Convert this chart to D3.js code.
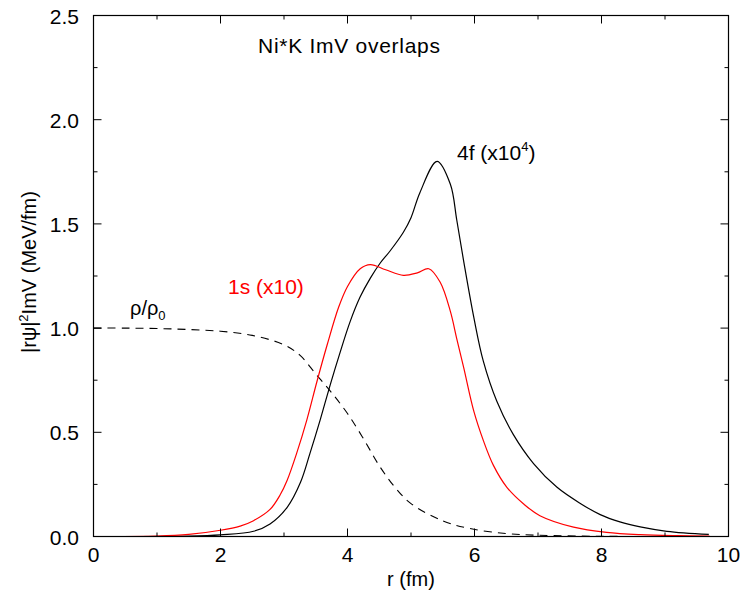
<!DOCTYPE html>
<html>
<head>
<meta charset="utf-8">
<script src="https://cdn.jsdelivr.net/npm/d3@7"></script>
<style>
  body { margin: 0; background: #fff; }
  text { font-family: "Liberation Sans", Arial, sans-serif; }
</style>
</head>
<body>
<svg width="743" height="598"></svg>
<script>
// 1s (x10) overlap
var redR = [0, 1.0, 1.5, 2.0, 2.31, 2.52, 2.78, 2.94, 3.05, 3.2, 3.36, 3.52, 3.68, 3.86, 4.0, 4.2, 4.36, 4.6, 4.88, 5.1, 5.28, 5.46, 5.62, 5.72, 5.83, 5.99, 6.14, 6.30, 6.51, 6.77, 7.03, 7.56, 8.08, 8.61, 9.2, 9.7];
var redV = [0, 0.002, 0.01, 0.03, 0.05, 0.076, 0.13, 0.20, 0.27, 0.40, 0.56, 0.745, 0.92, 1.10, 1.20, 1.285, 1.305, 1.28, 1.253, 1.265, 1.285, 1.22, 1.08, 0.95, 0.81, 0.60, 0.46, 0.34, 0.236, 0.157, 0.10, 0.045, 0.02, 0.009, 0.004, 0.002];

// 4f (x10^4) overlap
var blackR = [0, 1.5, 2.0, 2.52, 2.78, 3.05, 3.26, 3.41, 3.57, 3.73, 3.88, 4.04, 4.2, 4.36, 4.51, 4.67, 4.88, 5.0, 5.14, 5.41, 5.62, 5.72, 5.83, 5.99, 6.14, 6.35, 6.61, 6.93, 7.30, 7.66, 7.98, 8.29, 8.61, 9.03, 9.69];
var blackV = [0, 0.002, 0.008, 0.025, 0.06, 0.14, 0.26, 0.40, 0.56, 0.73, 0.88, 1.03, 1.15, 1.24, 1.31, 1.37, 1.46, 1.53, 1.65, 1.80, 1.69, 1.52, 1.32, 1.05, 0.84, 0.65, 0.49, 0.35, 0.236, 0.16, 0.105, 0.07, 0.046, 0.025, 0.01];

// rho/rho0 density
var rhoR = [0, 0.5, 1.0, 1.5, 2.0, 2.5, 3.0, 3.25, 3.5, 3.75, 4.0, 4.25, 4.5, 4.75, 5.0, 5.5, 5.93, 6.5, 7.0, 8.0, 9.0, 9.7];
var rhoV = [1.0, 1.0, 0.998, 0.993, 0.985, 0.965, 0.92, 0.87, 0.78, 0.69, 0.59, 0.47, 0.34, 0.235, 0.158, 0.075, 0.038, 0.014, 0.006, 0.001, 0, 0];

var xTicks = [0, 2, 4, 6, 8, 10];
var yTicks = [0, 0.5, 1.0, 1.5, 2.0, 2.5];

var svg = d3.select("svg");
var mLeft = 93.5, mRight = 728.5, mTop = 15.5, mBottom = 536.5;

var x = d3.scaleLinear().domain([0, 10]).range([mLeft, mRight]);
var y = d3.scaleLinear().domain([0, 2.5]).range([mBottom, mTop]);

function zip(a, b) { return a.map(function(d, i) { return [d, b[i]]; }); }

var line = d3.line()
  .x(function(d) { return x(d[0]); })
  .y(function(d) { return y(Math.max(0, d[1])); })
  .curve(d3.curveCatmullRom.alpha(0.5));

// curves
svg.append("path").attr("d", line(zip(rhoR, rhoV)))
  .attr("fill", "none").attr("stroke", "#000").attr("stroke-width", 1.1)
  .attr("stroke-dasharray", "8,6");
svg.append("path").attr("d", line(zip(blackR, blackV)))
  .attr("fill", "none").attr("stroke", "#000").attr("stroke-width", 1.2);
svg.append("path").attr("d", line(zip(redR, redV)))
  .attr("fill", "none").attr("stroke", "#ff0000").attr("stroke-width", 1.2);

// frame + ticks (inward on all sides)
svg.append("rect").attr("x", mLeft).attr("y", mTop)
  .attr("width", mRight - mLeft).attr("height", mBottom - mTop)
  .attr("fill", "none").attr("stroke", "#000").attr("stroke-width", 1.2);

var g = svg.append("g");
d3.range(0, 10.01, 1).forEach(function(v) {
  var len = v % 2 === 0 ? 8 : 4;
  g.append("line").attr("x1", x(v)).attr("x2", x(v)).attr("y1", mBottom).attr("y2", mBottom - len);
  g.append("line").attr("x1", x(v)).attr("x2", x(v)).attr("y1", mTop).attr("y2", mTop + len);
});
d3.range(0, 2.51, 0.25).forEach(function(v) {
  var len = Math.abs(v * 2 - Math.round(v * 2)) < 1e-6 ? 8 : 4;
  g.append("line").attr("y1", y(v)).attr("y2", y(v)).attr("x1", mLeft).attr("x2", mLeft + len);
  g.append("line").attr("y1", y(v)).attr("y2", y(v)).attr("x1", mRight).attr("x2", mRight - len);
});
g.selectAll("line").attr("stroke", "#000").attr("stroke-width", 1);

// tick labels
svg.append("g").selectAll("text").data(xTicks).enter().append("text")
  .attr("x", function(d) { return x(d); })
  .attr("y", 562)
  .attr("text-anchor", "middle")
  .attr("font-size", 21)
  .text(function(d) { return d; });

svg.append("g").selectAll("text").data(yTicks).enter().append("text")
  .attr("x", 79)
  .attr("y", function(d) { return y(d) + 8; })
  .attr("text-anchor", "end")
  .attr("font-size", 21)
  .text(function(d) { return d3.format(".1f")(d); });

// axis titles
svg.append("text").attr("x", x(5)).attr("y", 586)
  .attr("text-anchor", "middle").attr("font-size", 20).text("r (fm)");

var yl = svg.append("text")
  .attr("transform", "translate(36,272) rotate(-90)")
  .attr("text-anchor", "middle").attr("font-size", 20);
yl.append("tspan").text("|r\u03C8|");
yl.append("tspan").attr("dy", -8).attr("font-size", 13).text("2");
yl.append("tspan").attr("dy", 8).text("ImV (MeV/fm)");

// annotations
svg.append("text").attr("x", 258).attr("y", 53).attr("font-size", 21)
  .attr("textLength", 182).text("Ni*K ImV overlaps");

var t4 = svg.append("text").attr("x", 457).attr("y", 160).attr("font-size", 21);
t4.append("tspan").text("4f (x10");
t4.append("tspan").attr("dy", -9).attr("font-size", 13).text("4");
t4.append("tspan").attr("dy", 9).text(")");

svg.append("text").attr("x", 228).attr("y", 294).attr("font-size", 21)
  .attr("fill", "#ff0000").text("1s (x10)");

var tr = svg.append("text").attr("x", 130).attr("y", 315).attr("font-size", 20);
tr.append("tspan").text("\u03C1/\u03C1");
tr.append("tspan").attr("dy", 5).attr("font-size", 13).text("0");
</script>
</body>
</html>
